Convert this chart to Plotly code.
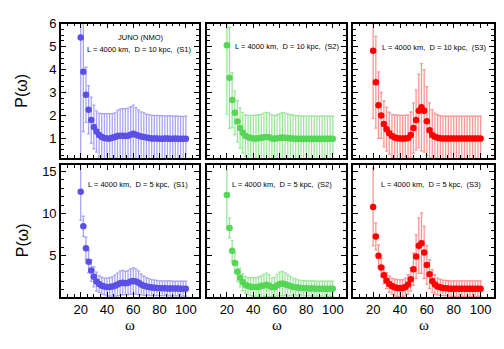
import plotly.graph_objects as go

AZUL = '#5A50E6'
AZUL_T = 'rgba(115,110,238,0.62)'
VERDE = '#55D655'
VERDE_T = 'rgba(95,215,95,0.62)'
ROJO = '#FF0000'
ROJO_T = 'rgba(255,60,60,0.55)'

omega = [20, 22, 24, 26, 28, 30, 32, 34, 36, 38, 40, 42, 44, 46, 48, 50, 52, 54, 56, 58,
         60, 62, 64, 66, 68, 70, 72, 74, 76, 78, 80, 82, 84, 86, 88, 90, 92, 94, 96, 98, 100]

# D = 10 kpc
p10_s1 = [5.4, 3.9, 2.9, 2.25, 1.8, 1.5, 1.3, 1.15, 1.06, 1.02, 1.0, 1.0, 1.03, 1.06, 1.1, 1.12, 1.12, 1.1, 1.12, 1.16,
          1.2, 1.16, 1.12, 1.08, 1.06, 1.04, 1.02, 1.0, 1.0, 1.0, 0.99, 0.99, 1.0, 1.0, 0.99, 0.99, 1.0, 0.99, 0.98, 0.98, 0.99]
e10_s1 = [6.5, 2.6, 1.2, 1.05, 1.0, 0.95, 0.9, 0.95, 1.02, 1.06, 1.08, 1.08, 1.05, 1.05, 1.12, 1.15, 1.18, 1.2, 1.2, 1.22,
          1.25, 1.18, 1.12, 1.08, 1.05, 1.02, 1.02, 1.0, 1.0, 1.0, 1.0, 1.0, 0.98, 0.98, 1.0, 0.98, 0.98, 0.98, 0.98, 0.98, 0.98]
p10_s2 = [5.06, 3.64, 2.67, 2.12, 1.74, 1.45, 1.25, 1.12, 1.05, 1.02, 1.0, 1.0, 1.01, 1.03, 1.05, 1.06, 1.05, 1.0, 0.99, 1.01,
          1.03, 1.04, 1.03, 1.02, 1.0, 1.0, 0.99, 0.99, 0.99, 0.98, 0.98, 0.99, 0.99, 0.98, 0.98, 0.98, 0.99, 0.99, 0.98, 0.98, 0.98]
e10_s2 = [3.0, 2.2, 1.2, 0.95, 0.9, 0.88, 0.88, 0.9, 0.95, 0.98, 1.0, 1.02, 1.02, 1.02, 1.05, 1.07, 1.05, 1.03, 1.0, 1.02,
          1.05, 1.08, 1.07, 1.05, 1.03, 1.02, 1.0, 1.0, 0.99, 0.99, 0.99, 0.99, 0.99, 0.99, 0.99, 0.99, 0.99, 0.99, 0.99, 0.99, 0.99]
p10_s3 = [4.82, 3.45, 2.45, 2.0, 1.63, 1.4, 1.22, 1.1, 1.04, 1.01, 1.0, 1.0, 1.0, 1.02, 1.15, 1.45, 1.8, 2.2, 2.36, 2.2,
          1.75, 1.35, 1.15, 1.07, 1.03, 1.01, 1.0, 1.0, 1.0, 1.0, 1.0, 1.0, 1.0, 1.0, 1.0, 1.0, 1.0, 1.0, 1.0, 1.0, 1.0]
e10_s3 = [2.95, 2.0, 1.45, 1.0, 1.0, 0.95, 0.92, 0.95, 0.98, 1.0, 1.0, 1.0, 1.0, 1.0, 1.0, 1.1, 1.3, 1.6, 1.9, 1.8,
          1.5, 1.2, 1.1, 1.03, 1.0, 0.98, 0.97, 0.97, 0.97, 0.97, 0.97, 0.97, 0.97, 0.97, 0.97, 0.97, 0.97, 0.97, 0.97, 0.97, 0.97]

# D = 5 kpc
p5_s1 = [12.6, 8.5, 5.9, 4.3, 3.25, 2.5, 1.95, 1.65, 1.45, 1.35, 1.3, 1.3, 1.35, 1.45, 1.6, 1.75, 1.8, 1.75, 1.8, 1.95,
         2.0, 1.95, 1.8, 1.6, 1.45, 1.35, 1.28, 1.22, 1.2, 1.18, 1.15, 1.15, 1.15, 1.13, 1.13, 1.12, 1.12, 1.12, 1.1, 1.1, 1.1]
e5_s1 = [3.4, 1.2, 1.3, 1.3, 1.3, 1.2, 1.1, 1.0, 1.0, 1.0, 1.05, 1.1, 1.15, 1.25, 1.35, 1.45, 1.45, 1.4, 1.45, 1.5,
         1.55, 1.5, 1.4, 1.25, 1.15, 1.05, 1.0, 0.95, 0.92, 0.9, 0.88, 0.88, 0.88, 0.88, 0.88, 0.88, 0.88, 0.88, 0.88, 0.88, 0.88]
p5_s2 = [12.2, 8.3, 5.6, 4.15, 3.1, 2.4, 1.85, 1.55, 1.4, 1.32, 1.3, 1.3, 1.33, 1.4, 1.48, 1.55, 1.45, 1.25, 1.3, 1.5,
         1.65, 1.7, 1.62, 1.5, 1.4, 1.3, 1.25, 1.2, 1.18, 1.15, 1.15, 1.13, 1.12, 1.12, 1.1, 1.1, 1.1, 1.1, 1.08, 1.08, 1.08]
e5_s2 = [4.0, 1.2, 1.2, 1.2, 1.2, 1.1, 1.0, 1.0, 1.0, 1.05, 1.1, 1.1, 1.15, 1.2, 1.3, 1.4, 1.3, 1.1, 1.15, 1.3,
         1.4, 1.45, 1.35, 1.25, 1.15, 1.05, 1.0, 0.95, 0.9, 0.9, 0.9, 0.9, 0.9, 0.9, 0.9, 0.9, 0.9, 0.9, 0.9, 0.9, 0.9]
p5_s3 = [10.8, 7.3, 5.0, 3.6, 2.7, 2.05, 1.65, 1.4, 1.25, 1.18, 1.15, 1.18, 1.3, 1.6, 2.2, 3.4, 4.9, 6.2, 6.5, 5.4,
         3.9, 2.8, 2.0, 1.6, 1.35, 1.25, 1.18, 1.15, 1.12, 1.1, 1.1, 1.1, 1.1, 1.1, 1.1, 1.1, 1.1, 1.1, 1.1, 1.1, 1.1]
e5_s3 = [4.6, 1.6, 1.3, 1.1, 1.0, 0.95, 0.95, 0.95, 1.0, 1.0, 1.0, 1.0, 1.05, 1.15, 1.4, 1.9, 2.6, 3.3, 3.6, 3.1,
         2.3, 1.7, 1.35, 1.15, 1.0, 0.95, 0.92, 0.92, 0.92, 0.92, 0.92, 0.92, 0.92, 0.92, 0.92, 0.92, 0.92, 0.92, 0.92, 0.92, 0.92]

W, H = 504, 349
X_DOM = [(61, 199), (207, 346), (353, 494)]
Y_DOM = [(17, 154), (161, 296)]
Y_RANGE = [[0.15, 6.0], [0.1, 15.8]]
Y_TICKS = [[1, 2, 3, 4, 5, 6], [5, 10, 15]]
Y_MINOR = [0.25, 1]

paneles = [
    (0, 0, p10_s1, e10_s1, AZUL, AZUL_T, 'L = 4000 km,  D = 10 kpc,  (S1)', 193, 43),
    (0, 1, p10_s2, e10_s2, VERDE, VERDE_T, 'L = 4000 km,  D = 10 kpc,  (S2)', 341, 40),
    (0, 2, p10_s3, e10_s3, ROJO, ROJO_T, 'L = 4000 km,  D = 10 kpc,  (S3)', 488, 41),
    (1, 0, p5_s1, e5_s1, AZUL, AZUL_T, 'L = 4000 km,  D = 5 kpc,  (S1)', 190, 181),
    (1, 1, p5_s2, e5_s2, VERDE, VERDE_T, 'L = 4000 km,  D = 5 kpc,  (S2)', 334, 181),
    (1, 2, p5_s3, e5_s3, ROJO, ROJO_T, 'L = 4000 km,  D = 5 kpc,  (S3)', 483, 181),
]

fig = go.Figure()
layout = {}
annotations = []
for k, (r, c, p, e, col, col_t, txt, tx, ty) in enumerate(paneles):
    n = k + 1
    xa = 'x' if n == 1 else f'x{n}'
    ya = 'y' if n == 1 else f'y{n}'
    fig.add_trace(go.Scatter(
        x=omega, y=p, mode='markers', xaxis=xa, yaxis=ya,
        marker=dict(size=6.5, color=col, line=dict(width=0)),
        error_y=dict(type='data', array=e, color=col_t, thickness=1.3, width=1.5),
        showlegend=False,
    ))
    x0, x1 = X_DOM[c]
    y0, y1 = Y_DOM[r]
    common = dict(showline=True, linecolor='black', linewidth=1.6, mirror='allticks',
                  ticks='inside', ticklen=5, tickwidth=1, tickcolor='black',
                  showgrid=False, zeroline=False,
                  tickfont=dict(family='Liberation Sans, Arial', size=13, color='black'))
    layout['xaxis' if n == 1 else f'xaxis{n}'] = dict(
        domain=[x0 / W, x1 / W], range=[5, 110], anchor=ya,
        tickvals=[20, 40, 60, 80, 100], showticklabels=(r == 1),
        minor=dict(dtick=5, tick0=0, ticks='inside', ticklen=3, tickcolor='black'),
        **common)
    layout['yaxis' if n == 1 else f'yaxis{n}'] = dict(
        domain=[1 - y1 / H, 1 - y0 / H], range=Y_RANGE[r], anchor=xa,
        tickvals=Y_TICKS[r], showticklabels=(c == 0),
        minor=dict(dtick=Y_MINOR[r], tick0=0, ticks='inside', ticklen=3, tickcolor='black'),
        **common)
    annotations.append(dict(
        text=txt, x=tx / W, y=1 - ty / H, xref='paper', yref='paper',
        xanchor='right', yanchor='middle', showarrow=False,
        font=dict(family='Liberation Sans, Arial', size=7.5, color='black')))

annotations.append(dict(
    text='JUNO (NMO)', x=140.5 / W, y=1 - 31 / H, xref='paper', yref='paper',
    xanchor='center', yanchor='middle', showarrow=False,
    font=dict(family='Liberation Sans, Arial', size=7.5, color='black')))

for yc in (85.5, 238):
    annotations.append(dict(
        text='P(ω)', x=22 / W, y=1 - yc / H, xref='paper', yref='paper',
        xanchor='center', yanchor='middle', showarrow=False, textangle=-90,
        font=dict(family='Liberation Sans, Arial', size=16, color='black')))

for xc in (130, 276.5, 423.5):
    annotations.append(dict(
        text='ω', x=xc / W, y=1 - 325 / H, xref='paper', yref='paper',
        xanchor='center', yanchor='middle', showarrow=False,
        font=dict(family='Liberation Serif, Times New Roman', size=15, color='black')))

fig.update_layout(
    width=W, height=H,
    margin=dict(l=0, r=0, t=0, b=0),
    paper_bgcolor='white', plot_bgcolor='white',
    annotations=annotations,
    **layout,
)
# quitar el margen por defecto del body para que la figura empiece en (0, 0)
fig.write_html('out.html', config={'displayModeBar': False},
               post_script="document.body.style.margin='0';")
